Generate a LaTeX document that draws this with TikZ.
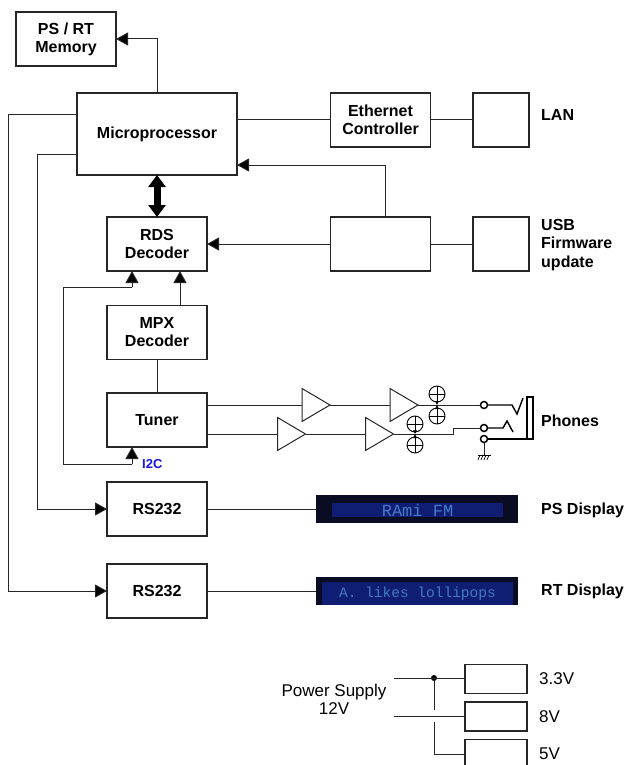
\documentclass[tikz,border=0pt]{standalone}
\usepackage{fontspec}
\setmainfont{Liberation Sans}
\setmonofont{Liberation Mono}
\usepackage{tikz}
\usetikzlibrary{arrows.meta}
\usetikzlibrary{shapes.geometric}
\colorlet{wiregray}{black!85}
\definecolor{ictext}{RGB}{20,20,235}
\definecolor{lcddark}{RGB}{10,12,35}
\definecolor{lcdblue}{RGB}{15,30,115}
\definecolor{lcdtext}{RGB}{70,120,200}
\tikzset{
	blockbox/.style={draw=wiregray,line width=1.1pt,outer sep=0pt,inner sep=0pt,align=center,font=\bfseries\fontsize{16}{18}\selectfont},
	bigblock/.style={blockbox,minimum width=100pt,minimum height=54pt},
	portblock/.style={blockbox,minimum width=56pt,minimum height=54pt},
	railblock/.style={blockbox,minimum width=62pt,minimum height=29pt},
	sidelabel/.style={anchor=west,inner sep=0pt,align=left,font=\bfseries\fontsize{16}{18.5}\selectfont},
	voltlabel/.style={anchor=west,inner sep=0pt,font=\fontsize{17}{19}\selectfont},
	lcdpanel/.style={fill=lcddark,outer sep=0pt,inner sep=0pt,minimum width=202pt,minimum height=28pt},
	lcdscreen/.style={fill=lcdblue,inner sep=0pt,text=lcdtext},
	amp/.style={draw=wiregray,line width=1pt,isosceles triangle,isosceles triangle stretches,minimum width=33pt,minimum height=28pt,inner sep=0pt,outer sep=0pt,anchor=lower side},
	plusring/.style={draw=black,circle,line width=0.9pt,minimum size=16pt,inner sep=0pt,outer sep=0pt,
		path picture={\draw[line width=0.7pt] (path picture bounding box.north) -- (path picture bounding box.south) (path picture bounding box.west) -- (path picture bounding box.east);}},
	jackring/.style={draw=black,circle,line width=1.5pt,minimum size=7pt,inner sep=0pt,outer sep=0pt},
	dotnode/.style={fill=black,circle,minimum size=6pt,inner sep=0pt,outer sep=0pt},
	wire/.style={draw=wiregray,line width=1pt},
	feed/.style={wire,-{Triangle[length=12pt,width=13pt,fill=black]}},
	tiny/.style={line width=0.6pt,-{Triangle[length=4pt,width=3.5pt]}},
}
\begin{document}
\begin{tikzpicture}[x=1pt,y=-1pt]
	\useasboundingbox (0,0) rectangle (627,765);
	\node[bigblock] (memory) at (66,39) {PS / RT\\Memory};
	\node[blockbox,minimum width=160pt,minimum height=82pt] (micro) at (157,134) {Microprocessor};
	\node[bigblock] (ether) at (380.5,120) {Ethernet\\Controller};
	\node[portblock] (lanport) at (501,120) {};
	\node[bigblock] (usbctrl) at (380.5,244) {};
	\node[portblock] (usbport) at (501,244) {};
	\node[bigblock] (rds) at (157,244) {RDS\\Decoder};
	\node[bigblock] (mpx) at (157,332.5) {MPX\\Decoder};
	\node[bigblock] (tuner) at (157,420) {Tuner};
	\node[bigblock] (rsone) at (157,509) {RS232};
	\node[bigblock] (rstwo) at (157,591) {RS232};

	\node[lcdpanel] (psdisp) at (417,509) {};
	\node[lcdscreen,minimum width=171pt,minimum height=14pt,font=\ttfamily\fontsize{17}{15}\selectfont] at (417.5,510) {RAmi FM};
	\node[lcdpanel] (rtdisp) at (417,591) {};
	\node[lcdscreen,minimum width=191pt,minimum height=23pt,font=\ttfamily\fontsize{14.5}{15}\selectfont] at (417.5,593.5) {A. likes lollipops};

	\node[sidelabel] at (541,115) {LAN};
	\node[sidelabel] at (541,245) {USB\\Firmware\\update};
	\node[sidelabel] at (541,421) {Phones};
	\node[sidelabel] at (541,510) {PS Display};
	\node[sidelabel] at (541,591) {RT Display};
	\node[anchor=west,inner sep=0pt,text=ictext,font=\bfseries\fontsize{13}{15}\selectfont] at (142,464) {I2C};

	\coordinate (microwest) at (77,115);
	\coordinate (microlow) at (77,154);
	\draw[feed] (157,93) |- (memory.east);
	\draw[wire] (micro.east |- ether.west) -- (ether.west);
	\draw[wire] (ether.east) -- (lanport.west);
	\draw[feed] (385,217) |- (237,165);
	\draw[feed] (usbctrl.west) -- (rds.east);
	\draw[wire] (usbctrl.east) -- (usbport.west);
	\draw[line width=7pt,{Triangle[length=12pt,width=17pt]}-{Triangle[length=12pt,width=17pt]}] (micro.south -| rds.north) -- (rds.north);
	\draw[feed] (180,305) -- (180,271);
	\coordinate (busleft) at (63,287);
	\coordinate (buslow) at (63,464);
	\draw[wire] (132,464) -- (buslow) -- (busleft) -- (132,287);
	\draw[feed] (132,287) -- (132,271);
	\draw[feed] (132,464) -- (132,447);
	\draw[wire] (mpx.south) -- (tuner.north);
	\draw[wire] (microwest) -- (8,115) |- (rstwo.west);
	\draw[wire] (microlow) -- (37,154) |- (rsone.west);
	\draw[feed] (90,509) -- (rsone.west);
	\draw[feed] (90,591) -- (rstwo.west);
	\draw[wire] (rsone.east) -- (psdisp.west);
	\draw[wire] (rstwo.east) -- (rtdisp.west);

	\node[amp] (ampa) at (302,405) {};
	\node[amp] (ampb) at (390,405) {};
	\node[amp] (ampc) at (277.5,434) {};
	\node[amp] (ampd) at (365.5,434) {};
	\node[plusring] (plusa) at (437,394) {};
	\node[plusring] (plusb) at (437,416) {};
	\node[plusring] (plusc) at (415,424) {};
	\node[plusring] (plusd) at (415,445) {};
	\node[jackring] (jacka) at (484,405) {};
	\node[jackring] (jackb) at (484,428) {};
	\node[jackring] (jackc) at (484,439) {};
	\draw[wire] (207,405) -- (ampa.lower side);
	\draw[wire] (207,434) -- (ampc.lower side);
	\draw[wire] (ampa.apex) -- (ampb.lower side);
	\draw[wire] (ampc.apex) -- (ampd.lower side);
	\draw[wire] (ampb.apex) -- (jacka.west);
	\draw[wire] (ampd.apex) -- (453,434) -- (453,428) -- (jackb.west);
	\draw[tiny] (plusa.south) -- (437,405);
	\draw[tiny] (plusb.north) -- (437,405);
	\draw[tiny] (plusc.south) -- (415,434);
	\draw[tiny] (plusd.north) -- (415,434);
	\draw[line width=1.4pt] (jacka.east) -- (512,405) -- (517,414) -- (523,398);
	\draw[line width=1.4pt] (jackb.east) -- (503,428) -- (507,421) -- (513,432);
	\draw[line width=1.4pt] (jackc.east) -- (527,439);
	\draw[line width=1.4pt] (527,397) rectangle (533,439);
	\draw[wire] (jackc.south) -- (484,455);
	\draw[line width=0.7pt] (478,455) -- (491,455);
	\foreach \hatch in {480,483,486,489} {
		\draw[line width=0.7pt] (\hatch,455) -- (\hatch-2,460);
	}

	\node[align=center,inner sep=0pt,font=\fontsize{17}{18}\selectfont] at (334,699) {Power Supply\\12V};
	\node[railblock] (railone) at (496,679) {};
	\node[railblock] (railtwo) at (496,716.5) {};
	\node[railblock] (railthree) at (496,754) {};
	\node[voltlabel] at (539,679) {3.3V};
	\node[voltlabel] at (539,717) {8V};
	\node[voltlabel] at (539,754) {5V};
	\coordinate (inone) at (394,678);
	\coordinate (intwo) at (394,716);
	\node[dotnode] (tap) at (434,678) {};
	\draw[wire] (inone) -- (railone.west |- inone);
	\draw[wire] (intwo) -- (railtwo.west |- intwo);
	\draw[wire] (tap) -- (434,710);
	\draw[wire] (434,722) |- (railthree.west);
\end{tikzpicture}
\end{document}
